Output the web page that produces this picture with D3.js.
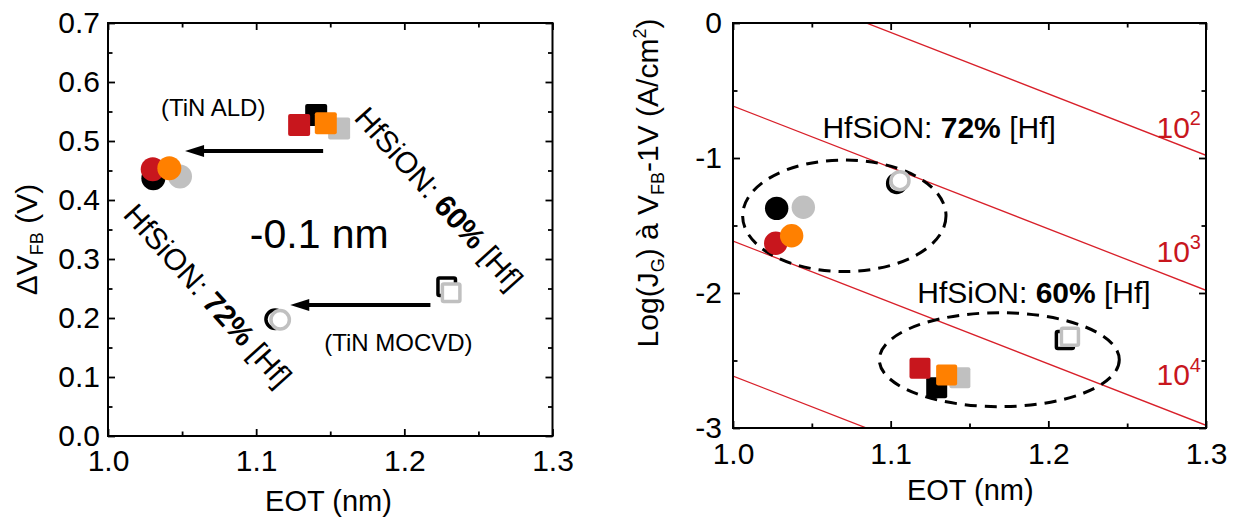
<!DOCTYPE html>
<html><head><meta charset="utf-8">
<script src="https://cdn.jsdelivr.net/npm/d3@7"></script>
<style>body{margin:0;background:#fff}svg{display:block}text{font-family:"Liberation Sans",Arial,sans-serif}</style>
</head><body><svg id="c" width="1237" height="517"></svg>
<script>
// ---------- axes data ----------
const eotDomain = [1.0, 1.3];
const vfbDomain = [0, 0.7];
const jgDomain = [-3, 0];
const eotTicks = [1.0, 1.1, 1.2, 1.3];
const eotMinor = [1.05, 1.15, 1.25];
const vfbTicks = [0, 0.1, 0.2, 0.3, 0.4, 0.5, 0.6, 0.7];
const vfbMinor = [0.05, 0.15, 0.25, 0.35, 0.45, 0.55, 0.65];
const jgTicks = [-3, -2, -1, 0];
const jgMinor = [-2.5, -1.5, -0.5];

// ---------- series (draw order: black, gray, red, orange) ----------
const fillColors = ["#000000", "#c0c0c0", "#c8161d", "#ff8000"];
const openColors = ["#000000", "#c0c0c0"];

// Left panel: delta VFB vs EOT
const vfbAld72Eot = [1.0306, 1.0486, 1.0302, 1.0414];
const vfbAld72 = [0.437, 0.440, 0.452, 0.454];
const vfbAld60Eot = [1.1405, 1.1560, 1.1290, 1.1470];
const vfbAld60 = [0.544, 0.521, 0.527, 0.530];
const vfbMocvd72Eot = [1.1128, 1.1162];
const vfbMocvd72 = [0.198, 0.197];
const vfbMocvd60Eot = [1.2286, 1.2316];
const vfbMocvd60 = [0.253, 0.243];

// Right panel: log(JG) vs EOT
const jgAld72Eot = [1.0277, 1.0446, 1.0271, 1.0372];
const jgAld72 = [-1.373, -1.365, -1.632, -1.576];
const jgAld60Eot = [1.1292, 1.1439, 1.1186, 1.1355];
const jgAld60 = [-2.701, -2.627, -2.558, -2.607];
const jgMocvd72Eot = [1.1038, 1.1059];
const jgMocvd72 = [-1.188, -1.168];
const jgMocvd60Eot = [1.2105, 1.2137];
const jgMocvd60 = [-2.348, -2.324];

// Arrows (left panel)
const arrowStartEot = [1.1452, 1.2176];
const arrowEndEot = [1.052, 1.123];
const arrowVfb = [0.483, 0.222];

// Iso-lines (right panel): logJ at EOT=1.3, slope in decades/nm
const isoJgAt13 = [-0.98, -1.98, -2.98, -3.98];
const isoSlope = -4.55;
const isoLabelExp = ["2", "3", "4"];
const isoLabelJg = [-0.854, -1.768, -2.681];

// Ellipses (right panel)
const ellEot = [1.0706, 1.1689];
const ellJg = [-1.428, -2.494];
const ellREot = [0.0645, 0.0761];
const ellRJg = [0.413, 0.348];

const svg = d3.select("#c");
const FONT = '"Liberation Sans", Arial, sans-serif';

const xL = d3.scaleLinear().domain(eotDomain).range([108, 552.5]);
const yL = d3.scaleLinear().domain(vfbDomain).range([436, 23]);
const xR = d3.scaleLinear().domain(eotDomain).range([733, 1206]);
const yR = d3.scaleLinear().domain(jgDomain).range([428, 23]);

function drawAxes(x, y, xFmt, yFmt, xPad, yPad, yMinorVals, yTickVals) {
  const g = svg.append("g");
  const [x0, x1] = x.range(), [y0, y1] = y.range();
  const styleAx = sel => {
    sel.select(".domain").remove();
    sel.attr("font-size", 30).attr("font-family", FONT);
    sel.selectAll("line").attr("stroke", "#000").attr("stroke-width", 1.8);
    sel.selectAll("text").attr("fill", "#000");
  };
  // bottom
  g.append("g").attr("transform", `translate(0,${y0})`)
    .call(d3.axisBottom(x).tickValues(eotTicks).tickSize(-7).tickPadding(xPad).tickFormat(xFmt)).call(styleAx);
  g.append("g").attr("transform", `translate(0,${y0})`)
    .call(d3.axisBottom(x).tickValues(eotMinor).tickSize(-4.5).tickFormat("")).call(styleAx);
  // top
  g.append("g").attr("transform", `translate(0,${y1})`)
    .call(d3.axisTop(x).tickValues(eotTicks).tickSize(-7).tickFormat("")).call(styleAx);
  g.append("g").attr("transform", `translate(0,${y1})`)
    .call(d3.axisTop(x).tickValues(eotMinor).tickSize(-4.5).tickFormat("")).call(styleAx);
  // left
  g.append("g").attr("transform", `translate(${x0},0)`)
    .call(d3.axisLeft(y).tickValues(yTickVals).tickSize(-7).tickPadding(yPad).tickFormat(yFmt)).call(styleAx);
  g.append("g").attr("transform", `translate(${x0},0)`)
    .call(d3.axisLeft(y).tickValues(yMinorVals).tickSize(-4.5).tickFormat("")).call(styleAx);
  // right
  g.append("g").attr("transform", `translate(${x1},0)`)
    .call(d3.axisRight(y).tickValues(yTickVals).tickSize(-7).tickFormat("")).call(styleAx);
  g.append("g").attr("transform", `translate(${x1},0)`)
    .call(d3.axisRight(y).tickValues(yMinorVals).tickSize(-4.5).tickFormat("")).call(styleAx);
  // frame
  g.append("rect").attr("x", x0).attr("y", y1).attr("width", x1 - x0).attr("height", y0 - y1)
    .attr("fill", "none").attr("stroke", "#000").attr("stroke-width", 2);
}

function squares(x, y, eots, vals, colors, size) {
  svg.append("g").selectAll("rect").data(eots).join("rect")
    .attr("x", (d, i) => x(d) - size / 2).attr("y", (d, i) => y(vals[i]) - size / 2)
    .attr("width", size).attr("height", size).attr("rx", 2)
    .attr("fill", (d, i) => colors[i]);
}
function circles(x, y, eots, vals, colors, r) {
  svg.append("g").selectAll("circle").data(eots).join("circle")
    .attr("cx", d => x(d)).attr("cy", (d, i) => y(vals[i])).attr("r", r)
    .attr("fill", (d, i) => colors[i]);
}
function openSquares(x, y, eots, vals, colors, size) {
  svg.append("g").selectAll("rect").data(eots).join("rect")
    .attr("x", (d, i) => x(d) - size / 2).attr("y", (d, i) => y(vals[i]) - size / 2)
    .attr("width", size).attr("height", size).attr("rx", 1.5)
    .attr("fill", "#fff").attr("stroke", (d, i) => colors[i]).attr("stroke-width", 3.5);
}
function openCircles(x, y, eots, vals, colors, r) {
  svg.append("g").selectAll("circle").data(eots).join("circle")
    .attr("cx", d => x(d)).attr("cy", (d, i) => y(vals[i])).attr("r", r)
    .attr("fill", "#fff").attr("stroke", (d, i) => colors[i]).attr("stroke-width", 3.5);
}

function richText(parent, parts, attrs) {
  const t = parent.append("text");
  Object.entries(attrs).forEach(([k, v]) => t.attr(k, v));
  parts.forEach(p => {
    const s = t.append("tspan").text(p.t);
    if (p.b) s.attr("font-weight", "bold");
    if (p.fs) s.attr("font-size", p.fs);
    if (p.dy) s.attr("dy", p.dy);
  });
  return t;
}

// ================= LEFT PANEL =================
drawAxes(xL, yL, d3.format(".1f"), d3.format(".1f"), 14, 8, vfbMinor, vfbTicks);

// arrows
arrowStartEot.forEach((s, i) => {
  const xs = xL(s), xe = xL(arrowEndEot[i]), yy = yL(arrowVfb[i]);
  svg.append("line").attr("x1", xs).attr("x2", xe + 16).attr("y1", yy).attr("y2", yy)
    .attr("stroke", "#000").attr("stroke-width", 4);
  svg.append("path").attr("d", `M${xe},${yy} L${xe + 19},${yy - 6} L${xe + 19},${yy + 6} Z`).attr("fill", "#000");
});

squares(xL, yL, vfbAld60Eot, vfbAld60, fillColors, 22);
circles(xL, yL, vfbAld72Eot, vfbAld72, fillColors, 12);
openSquares(xL, yL, vfbMocvd60Eot, vfbMocvd60, openColors, 17.5);
openCircles(xL, yL, vfbMocvd72Eot, vfbMocvd72, openColors, 9.2);

svg.append("text").attr("x", xL(1.071)).attr("y", yL(0.556)).attr("dominant-baseline", "central")
  .attr("text-anchor", "middle").attr("font-size", 24).text("(TiN ALD)");
svg.append("text").attr("x", xL(1.196)).attr("y", yL(0.159)).attr("dominant-baseline", "central")
  .attr("text-anchor", "middle").attr("font-size", 24).text("(TiN MOCVD)");
svg.append("text").attr("x", xL(1.1426)).attr("y", yL(0.319))
  .attr("text-anchor", "middle").attr("font-size", 41).text("-0.1 nm");

richText(svg.append("g").attr("transform", `translate(${xL(1.2236)},${yL(0.4034)}) rotate(48)`),
  [{t: "HfSiON: "}, {t: "60%", b: 1}, {t: " [Hf]"}],
  {"text-anchor": "middle", "dominant-baseline": "central", "font-size": 30});
richText(svg.append("g").attr("transform", `translate(${xL(1.0676)},${yL(0.2390)}) rotate(48)`),
  [{t: "HfSiON: "}, {t: "72%", b: 1}, {t: " [Hf]"}],
  {"text-anchor": "middle", "dominant-baseline": "central", "font-size": 30});

// axis titles
svg.append("text").attr("x", xL(1.1488)).attr("y", 511).attr("text-anchor", "middle")
  .attr("font-size", 29).text("EOT (nm)");
richText(svg.append("g").attr("transform", `translate(37,${(yL.range()[0] + yL.range()[1]) / 2 + 10}) rotate(-90)`),
  [{t: "ΔV"}, {t: "FB", fs: 18, dy: 6}, {t: " (V)", dy: -6}],
  {"text-anchor": "middle", "font-size": 30});

// ================= RIGHT PANEL =================
const defs = svg.append("defs");
defs.append("clipPath").attr("id", "clipR").append("rect")
  .attr("x", xR.range()[0]).attr("y", yR.range()[1])
  .attr("width", xR.range()[1] - xR.range()[0]).attr("height", yR.range()[0] - yR.range()[1]);

const iso = svg.append("g").attr("clip-path", "url(#clipR)");
isoJgAt13.forEach(c => {
  const yAt10 = c + isoSlope * (1.0 - 1.3);
  iso.append("line").attr("x1", xR(1.0)).attr("y1", yR(yAt10)).attr("x2", xR(1.3)).attr("y2", yR(c))
    .attr("stroke", "#d8202a").attr("stroke-width", 1.3);
});
isoLabelJg.forEach((v, i) => {
  richText(svg, [{t: "10"}, {t: isoLabelExp[i], fs: 20, dy: -13}],
    {"x": xR(1.2968), "y": yR(v), "text-anchor": "end", "font-size": 30, "fill": "#c8161d"});
});

drawAxes(xR, yR, d3.format(".1f"), d => String(d), 15, 11, jgMinor, jgTicks);

ellEot.forEach((e, i) => {
  svg.append("ellipse").attr("cx", xR(e)).attr("cy", yR(ellJg[i]))
    .attr("rx", xR(e + ellREot[i]) - xR(e)).attr("ry", yR(ellJg[i] - ellRJg[i]) - yR(ellJg[i]))
    .attr("fill", "none").attr("stroke", "#000").attr("stroke-width", 3)
    .attr("stroke-dasharray", "12,8");
});

squares(xR, yR, jgAld60Eot, jgAld60, fillColors, 21);
circles(xR, yR, jgAld72Eot, jgAld72, fillColors, 11.7);
openSquares(xR, yR, jgMocvd60Eot, jgMocvd60, openColors, 17);
openCircles(xR, yR, jgMocvd72Eot, jgMocvd72, openColors, 9);

richText(svg, [{t: "HfSiON: "}, {t: "72%", b: 1}, {t: " [Hf]"}],
  {"x": xR(1.0567), "y": yR(-0.854), "font-size": 30});
richText(svg, [{t: "HfSiON: "}, {t: "60%", b: 1}, {t: " [Hf]"}],
  {"x": xR(1.1169), "y": yR(-2.077), "font-size": 30});

svg.append("text").attr("x", xR(1.1505)).attr("y", 500).attr("text-anchor", "middle")
  .attr("font-size", 29).text("EOT (nm)");
richText(svg.append("g").attr("transform", `translate(658,183) rotate(-90)`),
  [{t: "Log(J"}, {t: "G", fs: 18, dy: 6}, {t: ") à V", dy: -6}, {t: "FB", fs: 18, dy: 6},
   {t: "-1V (A/cm", dy: -6}, {t: "2", fs: 18, dy: -12}, {t: ")", dy: 12}],
  {"text-anchor": "middle", "font-size": 30});
</script></body></html>
